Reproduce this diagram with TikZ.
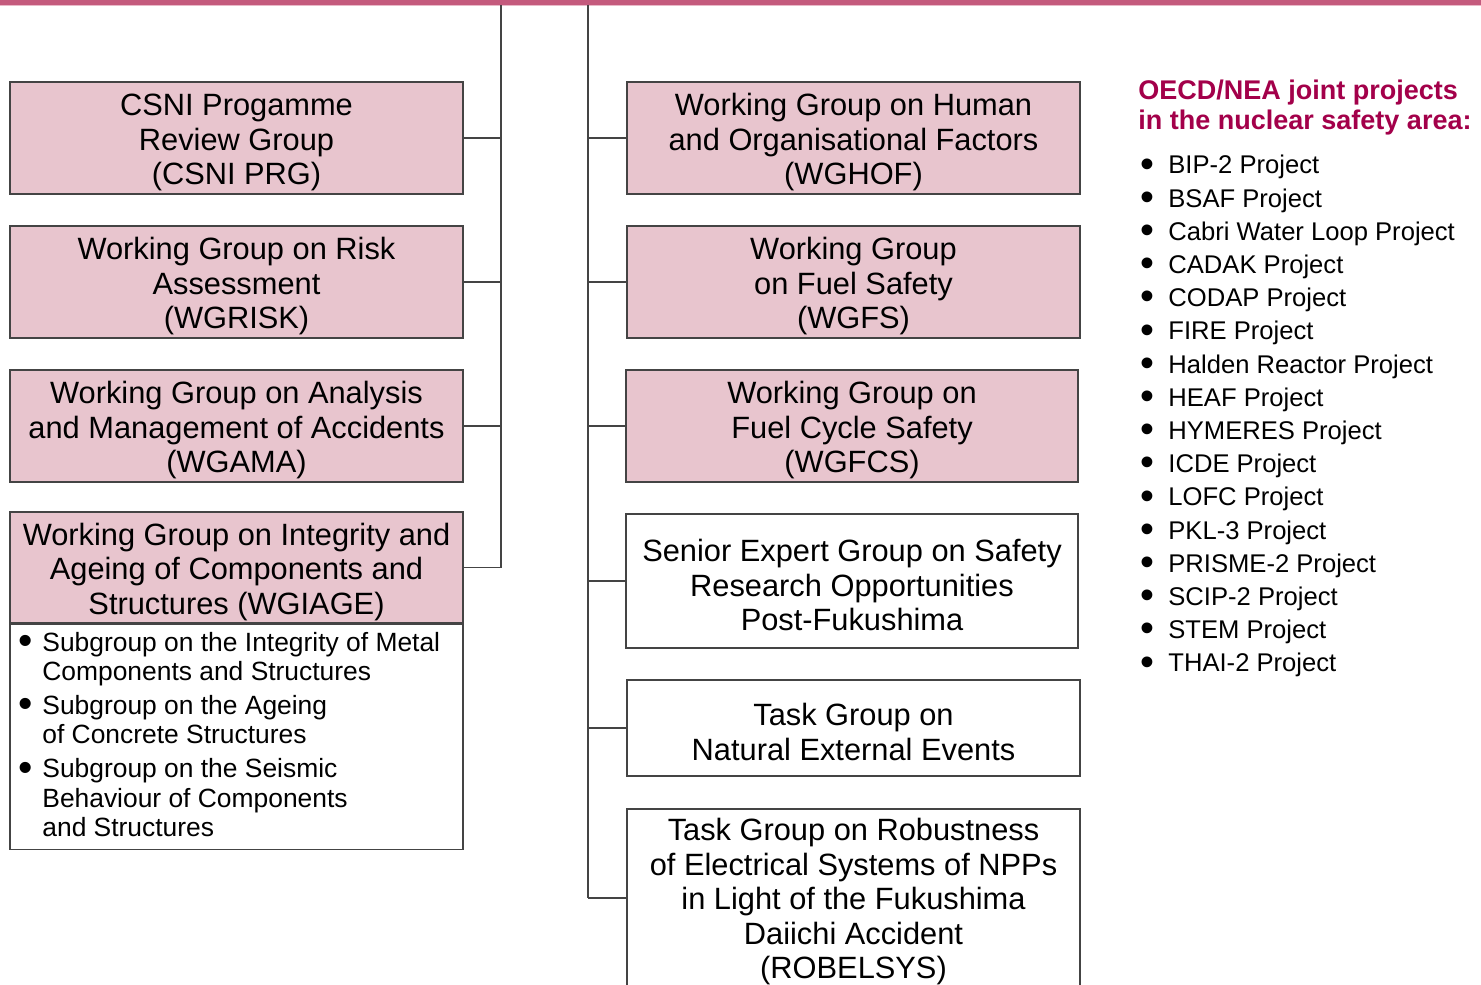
\documentclass[tikz,border=0pt]{standalone}
\usepackage{fontspec}
\usepackage{graphicx}
\setmainfont{Liberation Sans}
\usetikzlibrary{calc}
\definecolor{barpink}{HTML}{C45A7D}
\definecolor{barlight}{HTML}{E9B9C8}
\definecolor{boxpink}{HTML}{E8C5CE}
\definecolor{headred}{HTML}{A3004A}
\definecolor{lineg}{HTML}{444444}
\newcommand\boxfont{\fontsize{15.4}{17.25}\selectfont}
\newcommand\subfont{\fontsize{13.2}{14.6}\selectfont}
\newcommand\listfont{\fontsize{12.8}{16.6}\selectfont}
\newcommand\headfont{\fontsize{13.5}{15}\selectfont\bfseries}
\newcommand\bul{\raisebox{-0.12em}{\scalebox{1.55}{\textbullet}}}
\newcommand\fst{\rule{0pt}{15.2pt}}
\begin{document}
\begin{tikzpicture}[x=0.5pt,y=-0.5pt,
  box/.style={draw=lineg, line width=0.75pt, align=center, inner sep=0pt,
    minimum width=226.5pt, font=\boxfont, text=black},
  pinkbox/.style={box, fill=boxpink},
  conn/.style={draw=lineg, line width=0.75pt},
  plain/.style={inner sep=0pt, align=center, font=\boxfont, text=black}]
\clip (0,0) rectangle (1481,984);
\fill[white] (0,0) rectangle (1481,984);
% top bar
\fill[barlight] (0,0) rectangle (1481,6.5);
\fill[barpink] (0,0) rectangle (1481,5);

% left column
\node[pinkbox, minimum height=56pt] (csni) at (236.5,138)
  {\fst CSNI Progamme\\Review Group\\(CSNI PRG)};
\node[pinkbox, minimum height=56pt] (wgrisk) at (236.5,282)
  {\fst Working Group on Risk\\Assessment\\(WGRISK)};
\node[pinkbox, minimum height=56pt] (wgama) at (236.5,426)
  {\fst Working Group on Analysis\\and Management of Accidents\\(WGAMA)};
\node[pinkbox, minimum height=55.5pt] (wgiage) at (236.5,567.5)
  {\fst Working Group on Integrity and\\Ageing of Components and\\Structures (WGIAGE)};
\node[draw=lineg, line width=0.75pt, inner sep=0pt, minimum width=226.5pt, minimum height=112.5pt, anchor=north] (wgsub) at (wgiage.south) {};
\node[inner sep=0pt, anchor=north west, align=left, font=\subfont] (sublist) at (18,632)
  {\makebox[12pt][l]{\bul}Subgroup on the Integrity of Metal\\
   \hspace*{12pt}Components and Structures\\[2.4pt]
   \makebox[12pt][l]{\bul}Subgroup on the Ageing\\
   \hspace*{12pt}of Concrete Structures\\[2.4pt]
   \makebox[12pt][l]{\bul}Subgroup on the Seismic\\
   \hspace*{12pt}Behaviour of Components\\
   \hspace*{12pt}and Structures};

% middle column
\node[pinkbox, minimum height=56pt] (wghof) at (853.5,138)
  {\fst Working Group on Human\\and Organisational Factors\\(WGHOF)};
\node[pinkbox, minimum height=56pt] (wgfs) at (853.5,282)
  {\fst Working Group\\on Fuel Safety\\(WGFS)};
\node[pinkbox, minimum height=56pt, minimum width=226pt] (wgfcs) at (852,426)
  {\fst Working Group on\\Fuel Cycle Safety\\(WGFCS)};
\node[box, minimum height=67pt, minimum width=226pt] (sesar) at (852,581)
  {\fst Senior Expert Group on Safety\\Research Opportunities\\Post-Fukushima};
\node[box, minimum height=48pt] (nee) at (853.5,728)
  {\fst Task Group on\\Natural External Events};
\node[draw=lineg, line width=0.75pt, inner sep=0pt, minimum width=226.5pt, minimum height=100pt, anchor=north] (rob) at (853.5,808) {};
\node[plain] (robtext) at (853.5,902)
  {Task Group on Robustness\\of Electrical Systems of NPPs\\in Light of the Fukushima\\Daiichi Accident\\(ROBELSYS)};

% connectors
\coordinate (ltop) at (501,5);
\coordinate (mtop) at (588,5);
\draw[conn] (ltop) -- (ltop |- wgiage.east);
\foreach \n in {csni,wgrisk,wgama,wgiage}
  \draw[conn] (\n.east) -- (\n.east -| ltop);
\coordinate (robstub) at (588,898);
\draw[conn] (mtop) -- (robstub);
\foreach \n in {wghof,wgfs,wgfcs,sesar,nee}
  \draw[conn] (\n.west) -- (\n.west -| mtop);
\draw[conn] (robstub) -- (rob.west |- robstub);

% right list
\node[inner sep=0pt, anchor=north west, align=left, font=\headfont, text=headred] (head) at (1138,80)
  {OECD/NEA joint projects\\in the nuclear safety area:};
\node[inner sep=0pt, anchor=north west, align=left, font=\listfont, text=black] (plist) at (1140,155)
  {\makebox[14pt][l]{\bul}BIP-2 Project\\
   \makebox[14pt][l]{\bul}BSAF Project\\
   \makebox[14pt][l]{\bul}Cabri Water Loop Project\\
   \makebox[14pt][l]{\bul}CADAK Project\\
   \makebox[14pt][l]{\bul}CODAP Project\\
   \makebox[14pt][l]{\bul}FIRE Project\\
   \makebox[14pt][l]{\bul}Halden Reactor Project\\
   \makebox[14pt][l]{\bul}HEAF Project\\
   \makebox[14pt][l]{\bul}HYMERES Project\\
   \makebox[14pt][l]{\bul}ICDE Project\\
   \makebox[14pt][l]{\bul}LOFC Project\\
   \makebox[14pt][l]{\bul}PKL-3 Project\\
   \makebox[14pt][l]{\bul}PRISME-2 Project\\
   \makebox[14pt][l]{\bul}SCIP-2 Project\\
   \makebox[14pt][l]{\bul}STEM Project\\
   \makebox[14pt][l]{\bul}THAI-2 Project};
\end{tikzpicture}
\end{document}
